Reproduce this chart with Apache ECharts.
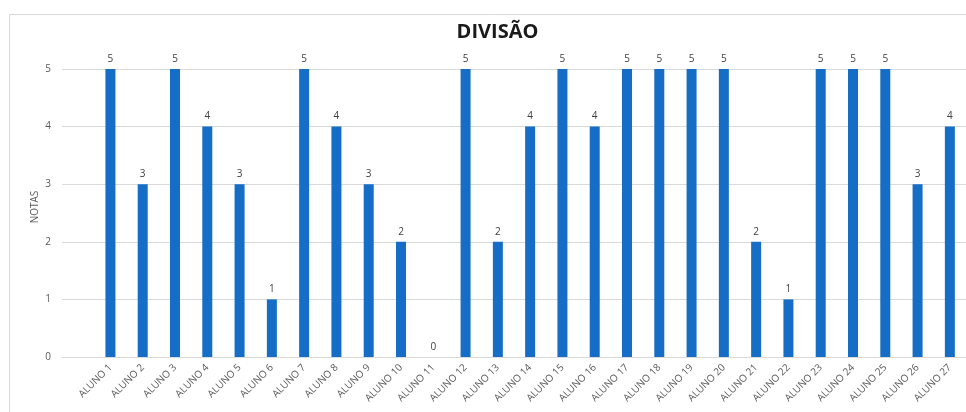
<!DOCTYPE html>
<html>
<head>
<meta charset="utf-8">
<script src="https://cdn.jsdelivr.net/npm/echarts@6/dist/echarts.min.js"></script>
<style>
  html, body { margin: 0; padding: 0; background: #fff; }
  #chart { width: 966px; height: 412px; }
</style>
</head>
<body>
<div id="chart"></div>
<script>
// Students and their grades
const categories = [
  'ALUNO 1', 'ALUNO 2', 'ALUNO 3', 'ALUNO 4', 'ALUNO 5', 'ALUNO 6', 'ALUNO 7',
  'ALUNO 8', 'ALUNO 9', 'ALUNO 10', 'ALUNO 11', 'ALUNO 12', 'ALUNO 13', 'ALUNO 14',
  'ALUNO 15', 'ALUNO 16', 'ALUNO 17', 'ALUNO 18', 'ALUNO 19', 'ALUNO 20', 'ALUNO 21',
  'ALUNO 22', 'ALUNO 23', 'ALUNO 24', 'ALUNO 25', 'ALUNO 26', 'ALUNO 27'
];
const notas = [5, 3, 5, 4, 3, 1, 5, 4, 3, 2, 0, 5, 2, 4, 5, 4, 5, 5, 5, 5, 2, 1, 5, 5, 5, 3, 4];
const yTicks = [0, 1, 2, 3, 4, 5];

const FONT = '"Open Sans", "Liberation Sans", sans-serif';

// a blank leading slot leaves the first category gap before ALUNO 1
const axisCats = [''].concat(categories);
const axisVals = ['-'].concat(notas);

const chart = echarts.init(document.getElementById('chart'), null, { renderer: 'canvas' });
chart.setOption({
  animation: false,
  backgroundColor: '#ffffff',
  graphic: [
    {
      type: 'rect',
      shape: { x: 9.5, y: 14.5, width: 1000, height: 500 },
      style: { fill: 'none', stroke: '#d9d9d9', lineWidth: 1 },
      silent: true
    },
    {
      type: 'text',
      x: 497.5, y: 32,
      style: {
        text: 'DIVISÃO', fontFamily: FONT, fontWeight: 'bold', fontSize: 20,
        fill: '#1a1a1a', textAlign: 'center', textVerticalAlign: 'middle'
      }
    },
    {
      // vertical axis title
      type: 'text',
      x: 35, y: 207,
      rotation: Math.PI / 2,
      style: {
        text: 'NOTAS', fontFamily: FONT, fontSize: 10,
        fill: '#595959', textAlign: 'center', textVerticalAlign: 'middle'
      }
    }
  ],
  grid: { left: 62, right: 0, top: 69, bottom: 55, containLabel: false },
  xAxis: {
    type: 'category',
    data: axisCats,
    boundaryGap: true,
    axisLine: { show: true, lineStyle: { color: '#d9d9d9', width: 1 } },
    axisTick: { show: false },
    axisLabel: {
      interval: 0, rotate: 45, margin: 9,
      color: '#595959', fontFamily: FONT, fontSize: 10
    }
  },
  yAxis: {
    type: 'value',
    min: yTicks[0], max: yTicks[yTicks.length - 1], interval: 1,
    axisLine: { show: false },
    axisTick: { show: false },
    axisLabel: { margin: 11, color: '#595959', fontFamily: FONT, fontSize: 10 },
    splitLine: { lineStyle: { color: '#d9d9d9', width: 1 } }
  },
  series: [{
    type: 'bar',
    data: axisVals,
    barWidth: 10,
    itemStyle: { color: '#156dc6' },
    label: {
      show: true, position: 'top', distance: 5,
      color: '#404040', fontFamily: FONT, fontSize: 10
    }
  }]
});
</script>
</body>
</html>
